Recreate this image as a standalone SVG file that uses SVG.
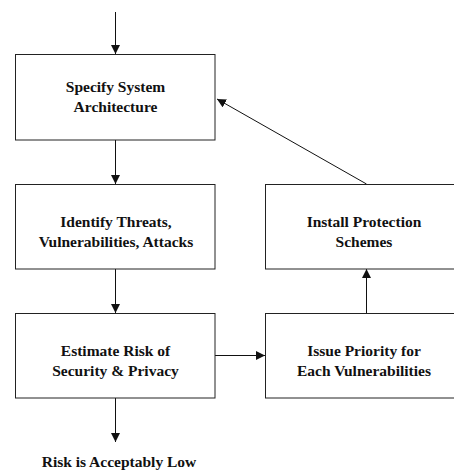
<svg xmlns="http://www.w3.org/2000/svg" width="454" height="470" viewBox="0 0 454 470">
<style>
.box{fill:#fff;stroke:#222;stroke-width:1}
.t{font-family:'Liberation Serif','Times New Roman',serif;font-weight:700;font-size:15.5px;fill:#111;text-anchor:middle}
.c{stroke:#111;stroke-width:1;fill:none;marker-end:url(#ah)}
</style>
<defs>
<marker id="ah" markerUnits="userSpaceOnUse" markerWidth="9" markerHeight="9" refX="8" refY="4" orient="auto" viewBox="0 0 8 8">
<path d="M0,0 L8,4 L0,8 z" fill="#111"/>
</marker>
</defs>
<rect width="454" height="470" fill="#fff"/>
<g id="connectors">
<line class="c" x1="115.5" y1="12" x2="115.5" y2="54"/>
<line class="c" x1="115.5" y1="140" x2="115.5" y2="184"/>
<line class="c" x1="115.5" y1="269" x2="115.5" y2="313"/>
<line class="c" x1="115.5" y1="398" x2="115.5" y2="442"/>
<line class="c" x1="215" y1="355.5" x2="265" y2="355.5"/>
<line class="c" x1="366.5" y1="313" x2="366.5" y2="269"/>
<line class="c" x1="366.5" y1="184" x2="217" y2="99"/>
</g>
<g id="specify">
<rect class="box" x="15.5" y="54.5" width="199.5" height="85.5"/>
<text class="t" x="115.5" y="92">Specify System</text>
<text class="t" x="115.5" y="112">Architecture</text>
</g>
<g id="identify">
<rect class="box" x="15.5" y="184.5" width="199.5" height="84.5"/>
<text class="t" x="116" y="227">Identify Threats,</text>
<text class="t" x="116" y="246.5">Vulnerabilities, Attacks</text>
</g>
<g id="estimate">
<rect class="box" x="15.5" y="313.5" width="199.5" height="84.5"/>
<text class="t" x="115.5" y="355.5">Estimate Risk of</text>
<text class="t" x="115.5" y="375.5">Security &amp; Privacy</text>
</g>
<g id="install">
<rect class="box" x="265.5" y="184.5" width="200" height="84.5"/>
<text class="t" x="364" y="227">Install Protection</text>
<text class="t" x="364" y="246.5">Schemes</text>
</g>
<g id="issue">
<rect class="box" x="265.5" y="313.5" width="200" height="84.5"/>
<text class="t" x="364" y="355.5">Issue Priority for</text>
<text class="t" x="364" y="375.5">Each Vulnerabilities</text>
</g>
<g id="result">
<text class="t" x="119" y="467">Risk is Acceptably Low</text>
</g>
</svg>
